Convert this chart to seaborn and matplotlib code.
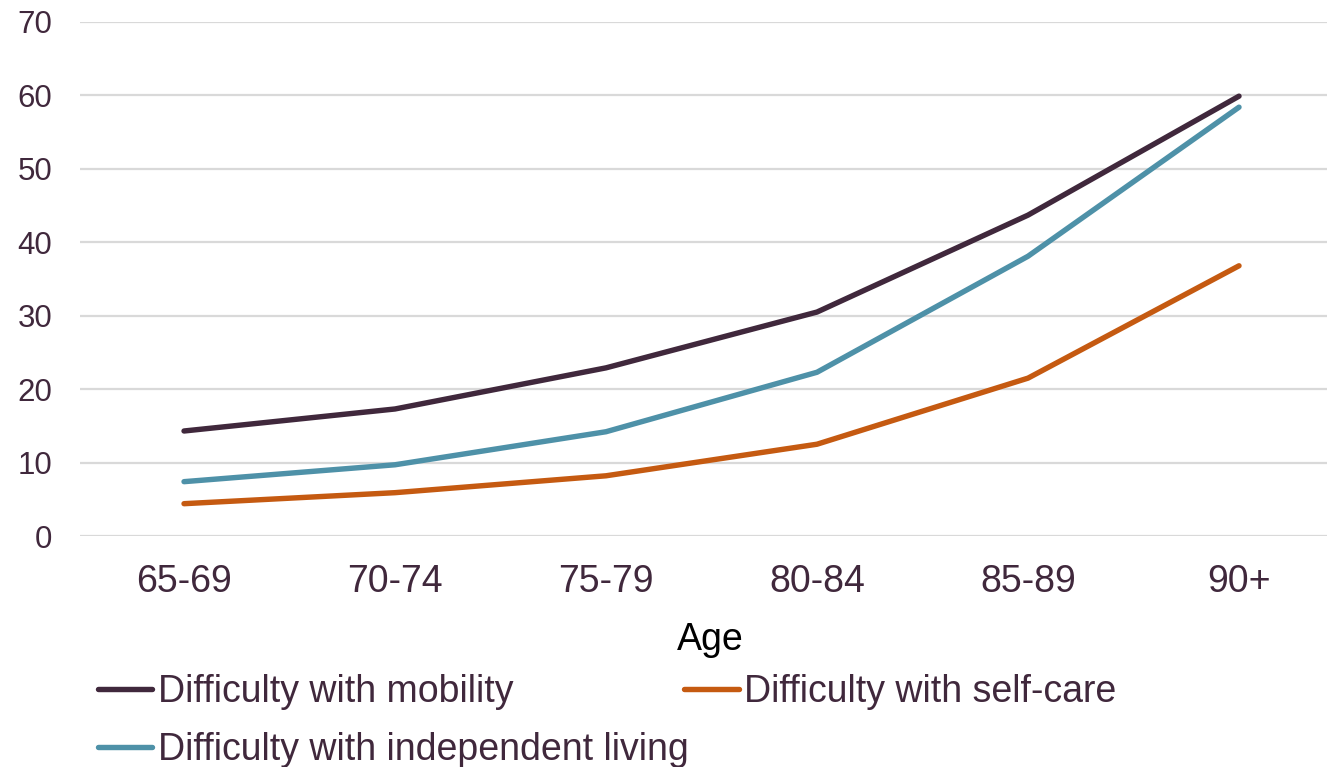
import matplotlib
matplotlib.use("Agg")
import matplotlib.pyplot as plt
import seaborn as sns
import pandas as pd
from matplotlib.lines import Line2D

# Share of people reporting each difficulty, by age band
age_groups = ["65-69", "70-74", "75-79", "80-84", "85-89", "90+"]
mobility = [14.3, 17.3, 22.9, 30.5, 43.7, 59.9]
self_care = [4.4, 5.9, 8.2, 12.5, 21.5, 36.8]
independent_living = [7.4, 9.7, 14.2, 22.3, 38.1, 58.4]

series_names = [
    "Difficulty with mobility",
    "Difficulty with self-care",
    "Difficulty with independent living",
]
y_ticks = [0, 10, 20, 30, 40, 50, 60, 70]

colors = {
    "Difficulty with mobility": "#40283C",
    "Difficulty with self-care": "#C55A11",
    "Difficulty with independent living": "#4E91A8",
}
text_color = "#40283C"

df = pd.DataFrame({
    "Age": age_groups * 3,
    "pos": list(range(len(age_groups))) * 3,
    "value": mobility + self_care + independent_living,
    "series": [s for s in series_names for _ in age_groups],
})

sns.set_theme(style="white")
plt.rcParams["font.family"] = ["Liberation Sans", "DejaVu Sans"]

fig = plt.figure(figsize=(13.27, 7.67), dpi=100)
ax = fig.add_axes([80 / 1327, 1 - 536 / 767, 1 - 80 / 1327, (536 - 22) / 767])

sns.lineplot(data=df, x="pos", y="value", hue="series", hue_order=series_names,
             palette=colors, linewidth=3.9, ax=ax, legend=False,
             solid_capstyle="round", sort=False)

ax.set_xlim(-0.493, 5.417)
ax.set_ylim(0, 70)
ax.set_yticks(y_ticks)
ax.set_yticklabels([str(v) for v in y_ticks], fontsize=22.5, color=text_color)
ax.set_xticks(range(len(age_groups)))
ax.set_xticklabels(age_groups, fontsize=27, color=text_color)
ax.tick_params(axis="y", length=0, pad=20)
ax.tick_params(axis="x", length=0, pad=20)
ax.yaxis.grid(True, color="#D9D9D9", linewidth=1.6)
ax.xaxis.grid(False)
ax.set_axisbelow(True)
for sp in ax.spines.values():
    sp.set_visible(False)
ax.set_xlabel("")
ax.set_ylabel("")

fig.text(710 / 1327, 1 - 640 / 767, "Age", fontsize=27, color="black",
         ha="center", va="center")

# Legend: mobility and independent living in the first column, self-care in the second
order = ["Difficulty with mobility", "Difficulty with independent living",
         "Difficulty with self-care"]
handles = [Line2D([0], [0], color=colors[n], linewidth=3.9, solid_capstyle="round")
           for n in order]
leg = fig.legend(handles, order, ncol=2, loc="upper left",
                 bbox_to_anchor=(98 / 1327, 1 - 674 / 767),
                 frameon=False, fontsize=27, handlelength=1.45,
                 handletextpad=0.15, columnspacing=-0.12, labelspacing=0.58,
                 borderpad=0, borderaxespad=0)
for t in leg.get_texts():
    t.set_color(text_color)

fig.savefig("out.png", dpi=100)
